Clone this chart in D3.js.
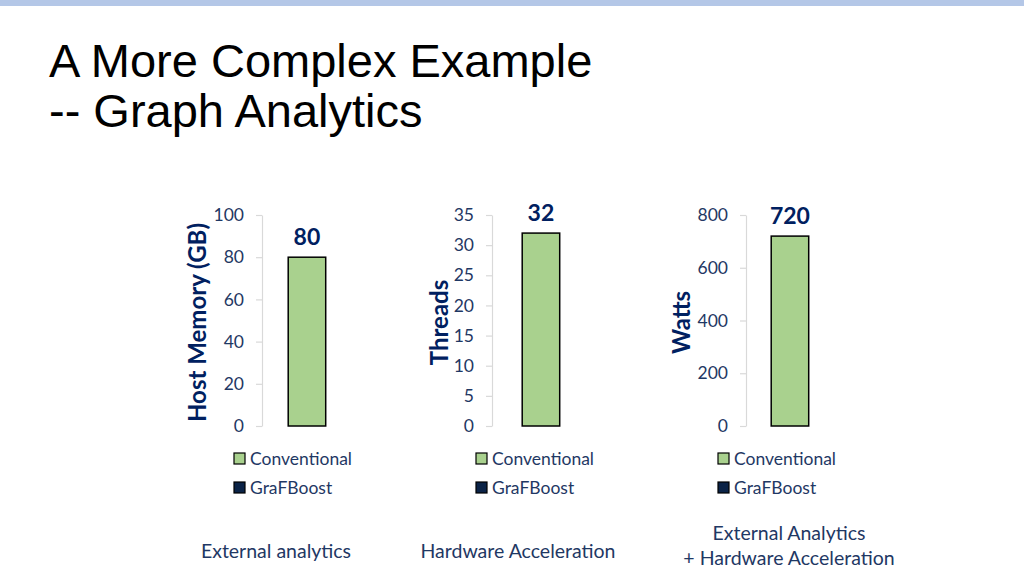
<!DOCTYPE html>
<html>
<head>
<meta charset="utf-8">
<script src="https://cdn.jsdelivr.net/npm/d3@7"></script>
<style>
  body { margin: 0; background: #fff; }
  svg { display: block; }
</style>
</head>
<body>
<svg id="chart" width="1024" height="576"></svg>
<script>
// values
var categories = ["External analytics", "Hardware Acceleration", "External Analytics|+ Hardware Acceleration"];
var metrics = ["Host Memory (GB)", "Threads", "Watts"];
var series = ["Conventional", "GraFBoost"];
var conventional = [80, 32, 720];
var grafboost = [null, null, null];
var axisMax = [100, 35, 800];
var tickLabels = [
  [0, 20, 40, 60, 80, 100],
  [0, 5, 10, 15, 20, 25, 30, 35],
  [0, 200, 400, 600, 800]
];

var navy = "#002060";
var tickColor = "#1f3864";
var colors = { "Conventional": "#a9d18e", "GraFBoost": "#0b2347" };
var font = "Lato, 'Open Sans', sans-serif";

var svg = d3.select("#chart");

// top band
svg.append("rect")
  .attr("x", 0).attr("y", 0)
  .attr("width", 1024).attr("height", 6)
  .attr("fill", "#b4c7e7");

// title
var title = svg.append("text")
  .attr("font-family", "'Liberation Sans', Arial, sans-serif")
  .attr("font-size", "47px")
  .attr("fill", "#000");
title.append("tspan").attr("x", 49).attr("y", 77).text("A More Complex Example");
title.append("tspan").attr("x", 49).attr("y", 127).text("-- Graph Analytics");

// layout of the three small charts
var axisX = [262, 492, 746];
var barOffset = [21, 25, 20];
var titleX = [198, 440, 682];
var legendX = [234, 476, 718];
var catX = [276, 518, 789];
var plotTop = 215, plotBottom = 426;

categories.forEach(function(cat, i) {
  var y = d3.scaleLinear()
    .domain([0, axisMax[i]])
    .range([plotBottom, plotTop]);

  var x = d3.scaleBand()
    .domain(series)
    .range([axisX[i] + barOffset[i], axisX[i] + barOffset[i] + 100])
    .paddingInner(0.28)
    .paddingOuter(0.1);

  var g = svg.append("g");

  var axis = g.append("g")
    .attr("transform", "translate(" + axisX[i] + ",0)")
    .call(d3.axisLeft(y).tickValues(tickLabels[i]).tickSize(6).tickSizeOuter(0).tickPadding(12));
  axis.select(".domain").attr("stroke", "#d9d9d9").attr("stroke-width", 1.2);
  axis.selectAll(".tick line").attr("stroke", "#d9d9d9").attr("stroke-width", 1.2);
  axis.selectAll(".tick text")
    .attr("font-family", font)
    .attr("font-size", "17.5px")
    .attr("fill", tickColor);

  var rows = [
    { s: "Conventional", v: conventional[i] },
    { s: "GraFBoost", v: grafboost[i] }
  ].filter(function(d) { return d.v != null; });

  g.selectAll("rect.bar")
    .data(rows)
    .enter()
    .append("rect")
    .attr("class", "bar")
    .attr("x", function(d) { return x(d.s); })
    .attr("y", function(d) { return y(d.v); })
    .attr("width", x.bandwidth())
    .attr("height", function(d) { return plotBottom - y(d.v); })
    .attr("fill", function(d) { return colors[d.s]; })
    .attr("stroke", "#000")
    .attr("stroke-width", 1.5);

  g.selectAll("text.val")
    .data(rows)
    .enter()
    .append("text")
    .attr("class", "val")
    .attr("x", function(d) { return x(d.s) + x.bandwidth() / 2; })
    .attr("y", function(d) { return y(d.v) - 12; })
    .attr("text-anchor", "middle")
    .attr("font-family", font)
    .attr("font-weight", "bold")
    .attr("font-size", "23px")
    .attr("fill", navy)
    .text(function(d) { return d.v; });

  // axis title
  g.append("text")
    .attr("transform", "translate(" + titleX[i] + "," + ((plotTop + plotBottom) / 2 + 2) + ") rotate(-90)")
    .attr("text-anchor", "middle")
    .attr("dy", "0.35em")
    .attr("font-family", font)
    .attr("font-weight", "bold")
    .attr("font-size", "24px")
    .attr("fill", navy)
    .text(metrics[i]);

  // legend
  var leg = g.selectAll("g.leg")
    .data(series)
    .enter()
    .append("g")
    .attr("class", "leg")
    .attr("transform", function(d, j) { return "translate(" + legendX[i] + "," + (453 + j * 29) + ")"; });
  leg.append("rect")
    .attr("width", 11).attr("height", 11)
    .attr("fill", function(d) { return colors[d]; })
    .attr("stroke", "#000")
    .attr("stroke-width", 1.2);
  leg.append("text")
    .attr("x", 16).attr("y", 6)
    .attr("dy", "0.35em")
    .attr("font-family", font)
    .attr("font-size", "17.5px")
    .attr("fill", tickColor)
    .text(function(d) { return d; });

  // category caption
  var lines = cat.split("|");
  var cap = g.append("text")
    .attr("text-anchor", "middle")
    .attr("font-family", font)
    .attr("font-size", "19.5px")
    .attr("fill", tickColor);
  lines.forEach(function(line, k) {
    var yy = lines.length === 1 ? 558 : 540 + k * 25;
    cap.append("tspan").attr("x", catX[i]).attr("y", yy).text(line);
  });
});
</script>
</body>
</html>
